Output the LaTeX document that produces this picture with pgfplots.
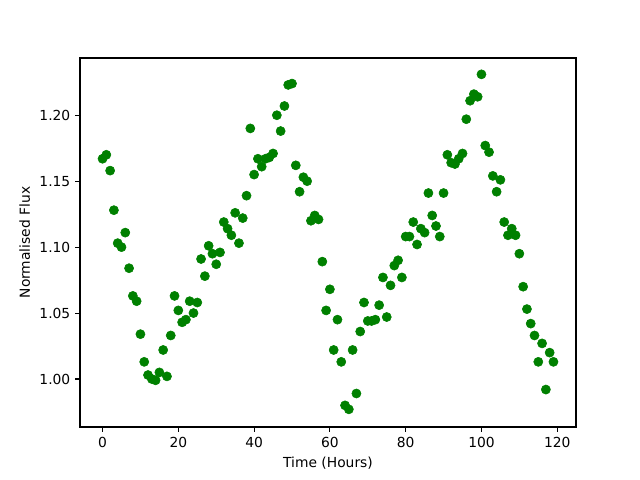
\documentclass[border=0pt]{standalone}
\usepackage{fontspec}
\setmainfont{DejaVu Sans}
\usepackage{pgfplots}
\pgfplotsset{compat=1.18}
\definecolor{mplgreen}{HTML}{008000}
\begin{document}
\begin{tikzpicture}
\path (0,0) rectangle (6.4in,4.8in);
\begin{axis}[
  at={(0.8in,0.53in)}, anchor=south west,
  scale only axis, width=4.96in, height=3.69in,
  xmin=-5.95, xmax=124.95, ymin=0.9636, ymax=1.2434,
  xtick={0,20,40,60,80,100,120},
  ytick={1.00,1.05,1.10,1.15,1.20},
  yticklabel style={/pgf/number format/.cd,fixed,fixed zerofill,precision=2},
  /pgf/number format/assume math mode=true,
  tick align=outside, tick pos=left,
  major tick length=3.5pt,
  every tick/.style={black, line width=0.8pt},
  axis line style={line width=0.8pt},
  tick label style={font=\fontsize{10}{12}\selectfont},
  label style={font=\fontsize{10}{12}\selectfont},
  xlabel={Time (Hours)}, ylabel={Normalised Flux},
]
\addplot[only marks, mark=*, mark size=3.3pt, color=mplgreen, mark options={draw=mplgreen, fill=mplgreen}] table {
x y
0 1.167
1 1.170
2 1.158
3 1.128
4 1.103
5 1.100
6 1.111
7 1.084
8 1.063
9 1.059
10 1.034
11 1.013
12 1.003
13 1.000
14 0.999
15 1.005
16 1.022
17 1.002
18 1.033
19 1.063
20 1.052
21 1.043
22 1.045
23 1.059
24 1.050
25 1.058
26 1.091
27 1.078
28 1.101
29 1.095
30 1.087
31 1.096
32 1.119
33 1.114
34 1.109
35 1.126
36 1.103
37 1.122
38 1.139
39 1.190
40 1.155
41 1.167
42 1.161
43 1.167
44 1.168
45 1.171
46 1.200
47 1.188
48 1.207
49 1.223
50 1.224
51 1.162
52 1.142
53 1.153
54 1.150
55 1.120
56 1.124
57 1.121
58 1.089
59 1.052
60 1.068
61 1.022
62 1.045
63 1.013
64 0.980
65 0.977
66 1.022
67 0.989
68 1.036
69 1.058
70 1.044
71 1.044
72 1.045
73 1.056
74 1.077
75 1.047
76 1.071
77 1.086
78 1.090
79 1.077
80 1.108
81 1.108
82 1.119
83 1.102
84 1.114
85 1.111
86 1.141
87 1.124
88 1.116
89 1.108
90 1.141
91 1.170
92 1.164
93 1.163
94 1.167
95 1.171
96 1.197
97 1.211
98 1.216
99 1.214
100 1.231
101 1.177
102 1.172
103 1.154
104 1.142
105 1.151
106 1.119
107 1.109
108 1.114
109 1.109
110 1.095
111 1.070
112 1.053
113 1.042
114 1.033
115 1.013
116 1.027
117 0.992
118 1.020
119 1.013
};
\end{axis}
\end{tikzpicture}
\end{document}
